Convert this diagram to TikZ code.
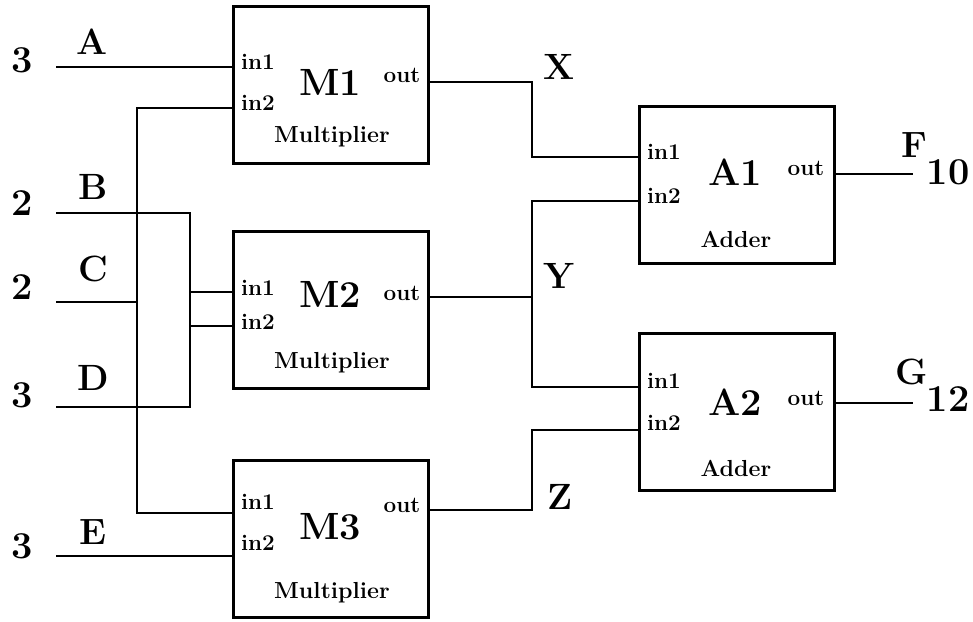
\documentclass[tikz,border=0pt]{standalone}
\usepackage{fontspec}
\usepackage{tikz}
\usetikzlibrary{calc}

\begin{document}
\begin{tikzpicture}[x=0.025cm, y=-0.025cm,
    unit/.style={draw, line width=2pt, anchor=north west, inner sep=0pt,
                 minimum width=4.875cm, minimum height=3.925cm},
    wire/.style={line width=2.1pt},
    sig/.style={font=\fontsize{26}{29}\selectfont\bfseries, inner sep=0pt},
    val/.style={font=\fontsize{27}{30}\selectfont\bfseries, inner sep=0pt},
    title/.style={font=\fontsize{27}{30}\selectfont\bfseries, inner sep=0pt},
    port/.style={font=\fontsize{16}{18}\selectfont\bfseries, inner sep=0pt},
    kind/.style={font=\fontsize{16.5}{18}\selectfont\bfseries, inner sep=0pt},
]
    \useasboundingbox (0,0) rectangle (973,622);

    % Multipliers
    \node[unit] (M1) at (232,5) {};
    \node[port] (M1i1t) at (258,62) {in1};
    \node[port] (M1i2t) at (258,103) {in2};
    \node[title] (M1t) at (330,82) {M1};
    \node[port] (M1ot) at (402,75) {out};
    \node[kind] (M1k) at (332,137) {Multiplier};

    \node[unit] (M2) at (232,230) {};
    \node[port] (M2i1t) at (258,288) {in1};
    \node[port] (M2i2t) at (258,322) {in2};
    \node[title] (M2t) at (330,294) {M2};
    \node[port] (M2ot) at (402,293) {out};
    \node[kind] (M2k) at (332,363) {Multiplier};

    \node[unit] (M3) at (232,459) {};
    \node[port] (M3i1t) at (258,502) {in1};
    \node[port] (M3i2t) at (258,543) {in2};
    \node[title] (M3t) at (330,527) {M3};
    \node[port] (M3ot) at (402,505) {out};
    \node[kind] (M3k) at (332,593) {Multiplier};

    % Adders
    \node[unit] (A1) at (638,105) {};
    \node[port] (A1i1t) at (664,152) {in1};
    \node[port] (A1i2t) at (664,196) {in2};
    \node[title] (A1t) at (735,172) {A1};
    \node[port] (A1ot) at (806,168) {out};
    \node[kind] (A1k) at (736,239) {Adder};

    \node[unit] (A2) at (638,332) {};
    \node[port] (A2i1t) at (664,381) {in1};
    \node[port] (A2i2t) at (664,423) {in2};
    \node[title] (A2t) at (735,402) {A2};
    \node[port] (A2ot) at (806,398) {out};
    \node[kind] (A2k) at (736,468) {Adder};

    % Ports
    \coordinate (M1in1) at (232,67);
    \coordinate (M1in2) at (232,108);
    \coordinate (M1out) at (427,82);
    \coordinate (M2in1) at (232,292);
    \coordinate (M2in2) at (232,326);
    \coordinate (M2out) at (428,297);
    \coordinate (M3in1) at (232,513);
    \coordinate (M3in2) at (232,556);
    \coordinate (M3out) at (427,510);
    \coordinate (A1in1) at (638,157);
    \coordinate (A1in2) at (638,201);
    \coordinate (A1out) at (833,174);
    \coordinate (A2in1) at (638,387);
    \coordinate (A2in2) at (638,430);
    \coordinate (A2out) at (833,403);

    % Free ends and bends
    \coordinate (inA) at (56,67);
    \coordinate (inB) at (56,213);
    \coordinate (inC) at (56,302);
    \coordinate (inD) at (56,407);
    \coordinate (inE) at (56,556);
    \coordinate (outF) at (913,174);
    \coordinate (outG) at (913,403);
    \coordinate (busC) at (137,302);
    \coordinate (jogBD) at (190,310);
    \coordinate (jogX) at (532,120);
    \coordinate (busY) at (532,297);
    \coordinate (jogZ) at (532,470);

    % Wires
    \draw[wire] (inA) -- (M1in1);
    \draw[wire] (M1in2) -| (busC) |- (M3in1);
    \draw[wire] (inC) -- (busC);
    \draw[wire] (inB) -| (jogBD) |- (M2in1);
    \draw[wire] (inD) -| (jogBD) |- (M2in2);
    \draw[wire] (inE) -- (M3in2);
    \draw[wire] (M1out) -| (jogX) |- (A1in1);
    \draw[wire] (M2out) -- (busY);
    \draw[wire] (A1in2) -| (busY) |- (A2in1);
    \draw[wire] (M3out) -| (jogZ) |- (A2in2);
    \draw[wire] (A1out) -- (outF);
    \draw[wire] (A2out) -- (outG);

    % Signal names and values
    \node[val] (vA) at (22,60) {3};
    \node[sig] (sA) at (92,42) {A};
    \node[val] (vB) at (22,203) {2};
    \node[sig] (sB) at (93,187) {B};
    \node[val] (vC) at (22,287) {2};
    \node[sig] (sC) at (93,269) {C};
    \node[val] (vD) at (22,395) {3};
    \node[sig] (sD) at (93,378) {D};
    \node[val] (vE) at (22,546) {3};
    \node[sig] (sE) at (93,532) {E};
    \node[sig] (sX) at (559,67) {X};
    \node[sig] (sY) at (559,276) {Y};
    \node[sig] (sZ) at (560,497) {Z};
    \node[sig] (sF) at (914,145) {F};
    \node[val] (vF) at (948,172) {10};
    \node[sig] (sG) at (912,372) {G};
    \node[val] (vG) at (948,399) {12};
\end{tikzpicture}
\end{document}
